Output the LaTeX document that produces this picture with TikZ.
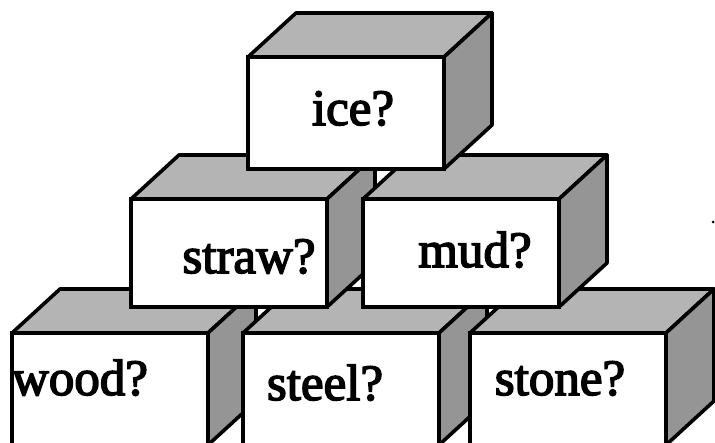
\documentclass[tikz,border=0pt]{standalone}
\usepackage{fontspec}
\usepackage{tikz}
\usetikzlibrary{calc}
\newfontfamily\blockfont[FakeBold=3]{Liberation Serif}
\definecolor{topgray}{HTML}{B4B4B4}
\definecolor{sidegray}{HTML}{959595}
\tikzset{
  face/.style={draw=black, line width=3.6pt, fill=white, outer sep=0pt, inner sep=0pt,
               minimum width=196pt, minimum height=112pt},
  midface/.style={face, minimum height=108pt},
  topside/.style={draw=black, line width=3.6pt, fill=topgray, line join=round},
  rightside/.style={topside, fill=sidegray},
  word/.style={font=\blockfont\fontsize{51}{60}\selectfont, anchor=base, inner sep=0pt}
}
\newcommand{\blocksides}[1]{%
  \filldraw[topside] (#1.north west) -- ($(#1.north west)+(48,-44)$)
    -- ($(#1.north east)+(48,-44)$) -- (#1.north east) -- cycle;
  \filldraw[rightside] (#1.north east) -- ($(#1.north east)+(48,-44)$)
    -- ($(#1.south east)+(48,-44)$) -- (#1.south east) -- cycle;}

\begin{document}
\begin{tikzpicture}[x=1pt, y=-1pt]
  \useasboundingbox (0,0) rectangle (715,442);
  \clip (0,0) rectangle (715,442);

  \node[face] (wood) at (110,389) {};
  \blocksides{wood}
  \node[face] (steel) at (341,389) {};
  \blocksides{steel}
  \node[face] (stone) at (568,389) {};
  \blocksides{stone}

  \node[midface] (straw) at (229,253) {};
  \blocksides{straw}
  \node[midface] (mud) at (461,253) {};
  \blocksides{mud}

  \node[face] (ice) at (346,113) {};
  \blocksides{ice}

  \node[word] (woodtxt) at (80,395) {wood?};
  \node[word] (steeltxt) at (325,400) {steel?};
  \node[word] (stonetxt) at (560,395) {stone?};
  \node[word] (strawtxt) at (249,273) {straw?};
  \node[word] (mudtxt) at (475,267) {mud?};
  \node[word] (icetxt) at (353,125) {ice?};

  \fill (713,222) circle (1.5);
\end{tikzpicture}
\end{document}
